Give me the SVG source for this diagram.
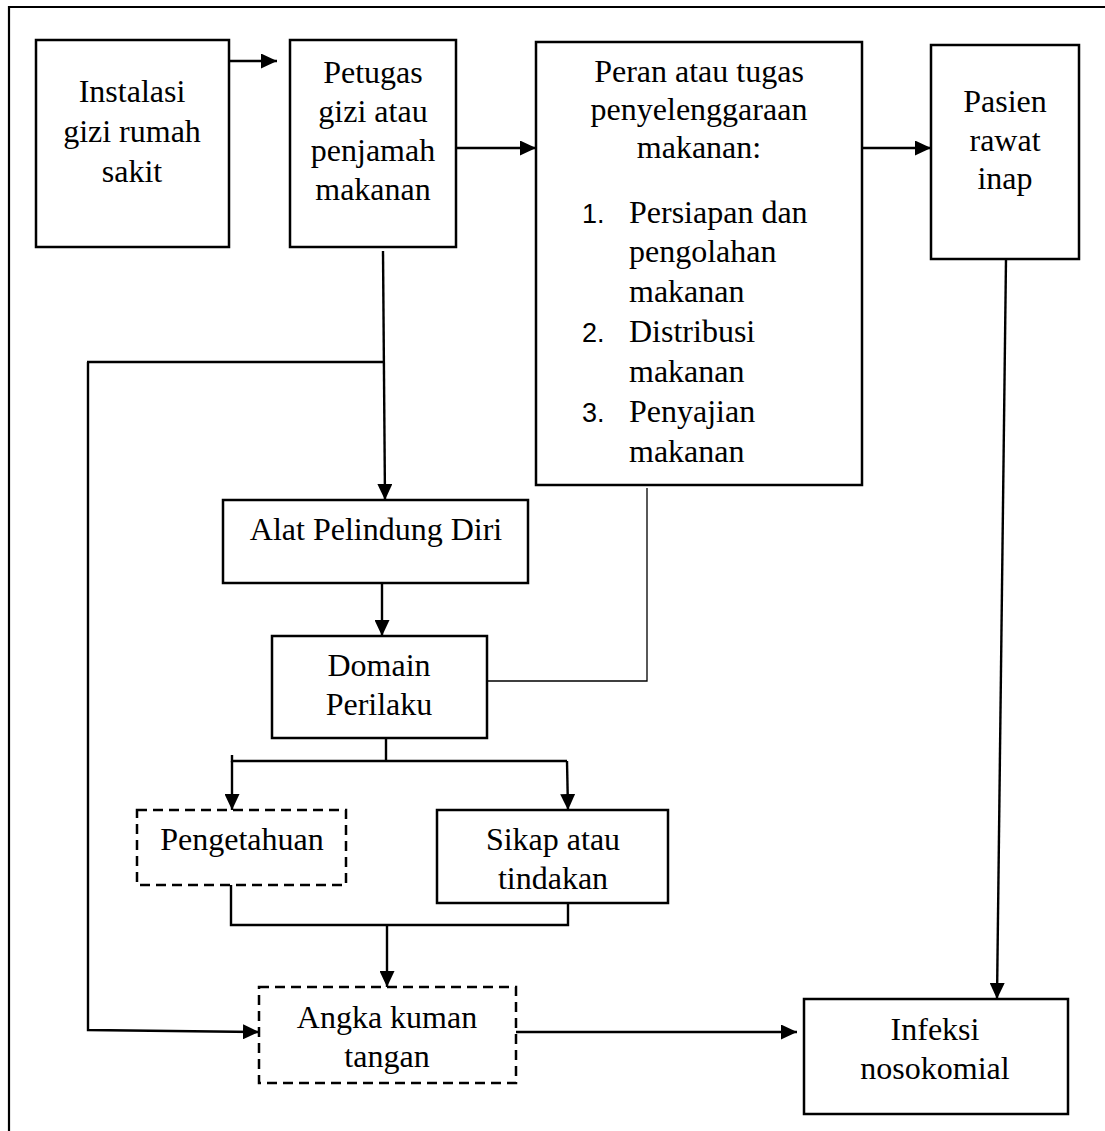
<svg xmlns="http://www.w3.org/2000/svg" width="1105" height="1131" viewBox="0 0 1105 1131">
<style>
.box{fill:#fff;stroke:#000;stroke-width:2.5}
.dash{fill:#fff;stroke:#000;stroke-width:2.5;stroke-dasharray:10 6}
.t{font-family:"Liberation Serif","Times New Roman",serif;font-size:32px;fill:#000;text-anchor:middle}
.tl{font-family:"Liberation Serif","Times New Roman",serif;font-size:32px;fill:#000}
.num{font-family:"Liberation Sans",Arial,sans-serif;font-size:27px;fill:#000}
.ln{fill:none;stroke:#000;stroke-width:2.4}
.thin{fill:none;stroke:#000;stroke-width:1.3}
</style>
<defs>
<marker id="ah" markerUnits="userSpaceOnUse" markerWidth="16" markerHeight="15" refX="16" refY="7.5" orient="auto">
<path d="M0,0 L16,7.5 L0,15 z" fill="#000"/>
</marker>
</defs>
<rect width="1105" height="1131" fill="#fff"/>
<g id="frame">
<path d="M9,1131 V7 H1105" fill="none" stroke="#000" stroke-width="2.2"/>
</g>
<g id="connectors">
<line class="ln" x1="229" y1="61" x2="277" y2="61" marker-end="url(#ah)"/>
<line class="ln" x1="456" y1="148" x2="536" y2="148" marker-end="url(#ah)"/>
<line class="ln" x1="862" y1="148" x2="931" y2="148" marker-end="url(#ah)"/>
<line class="ln" x1="383" y1="251" x2="385" y2="500" marker-end="url(#ah)"/>
<polyline class="ln" points="383,362 87,362"/>
<polyline class="ln" points="88,362 88,1030 259,1032" marker-end="url(#ah)"/>
<line class="ln" x1="382" y1="583" x2="382" y2="636" marker-end="url(#ah)"/>
<polyline class="thin" points="647,488 647,681 487,681"/>
<line class="ln" x1="386" y1="738" x2="386" y2="761"/>
<polyline class="ln" points="232,755 232,761 567,761"/>
<line class="ln" x1="232" y1="761" x2="232" y2="810" marker-end="url(#ah)"/>
<line class="ln" x1="567" y1="761" x2="568" y2="810" marker-end="url(#ah)"/>
<polyline class="ln" points="231,885 231,925 568,925 568,903"/>
<line class="ln" x1="387" y1="925" x2="387" y2="987" marker-end="url(#ah)"/>
<line class="ln" x1="516" y1="1032" x2="797" y2="1032" marker-end="url(#ah)"/>
<line class="ln" x1="1006" y1="259" x2="997" y2="999" marker-end="url(#ah)"/>
</g>
<g id="instalasi">
<rect class="box" x="36" y="40" width="193" height="207"/>
<text class="t" x="132" y="102">Instalasi</text>
<text class="t" x="132" y="142">gizi rumah</text>
<text class="t" x="132" y="182">sakit</text>
</g>
<g id="petugas">
<rect class="box" x="290" y="40" width="166" height="207"/>
<text class="t" x="373" y="83">Petugas</text>
<text class="t" x="373" y="122">gizi atau</text>
<text class="t" x="373" y="161">penjamah</text>
<text class="t" x="373" y="200">makanan</text>
</g>
<g id="peran">
<rect class="box" x="536" y="42" width="326" height="443"/>
<text class="t" x="699" y="82">Peran atau tugas</text>
<text class="t" x="699" y="120">penyelenggaraan</text>
<text class="t" x="699" y="158">makanan:</text>
<text class="num" x="582" y="223">1.</text>
<text class="tl" x="629" y="223">Persiapan dan</text>
<text class="tl" x="629" y="262">pengolahan</text>
<text class="tl" x="629" y="302">makanan</text>
<text class="num" x="582" y="342">2.</text>
<text class="tl" x="629" y="342">Distribusi</text>
<text class="tl" x="629" y="382">makanan</text>
<text class="num" x="582" y="422">3.</text>
<text class="tl" x="629" y="422">Penyajian</text>
<text class="tl" x="629" y="462">makanan</text>
</g>
<g id="pasien">
<rect class="box" x="931" y="45" width="148" height="214"/>
<text class="t" x="1005" y="112">Pasien</text>
<text class="t" x="1005" y="151">rawat</text>
<text class="t" x="1005" y="189">inap</text>
</g>
<g id="apd">
<rect class="box" x="223" y="500" width="305" height="83"/>
<text class="t" x="376" y="540">Alat Pelindung Diri</text>
</g>
<g id="domain">
<rect class="box" x="272" y="636" width="215" height="102"/>
<text class="t" x="379" y="676">Domain</text>
<text class="t" x="379" y="715">Perilaku</text>
</g>
<g id="pengetahuan">
<rect class="dash" x="137" y="810" width="209" height="75"/>
<text class="t" x="242" y="850">Pengetahuan</text>
</g>
<g id="sikap">
<rect class="box" x="437" y="810" width="231" height="93"/>
<text class="t" x="553" y="850">Sikap atau</text>
<text class="t" x="553" y="889">tindakan</text>
</g>
<g id="angka">
<rect class="dash" x="259" y="987" width="257" height="96"/>
<text class="t" x="387" y="1028">Angka kuman</text>
<text class="t" x="387" y="1067">tangan</text>
</g>
<g id="infeksi">
<rect class="box" x="804" y="999" width="264" height="115"/>
<text class="t" x="935" y="1040">Infeksi</text>
<text class="t" x="935" y="1079">nosokomial</text>
</g>
</svg>
